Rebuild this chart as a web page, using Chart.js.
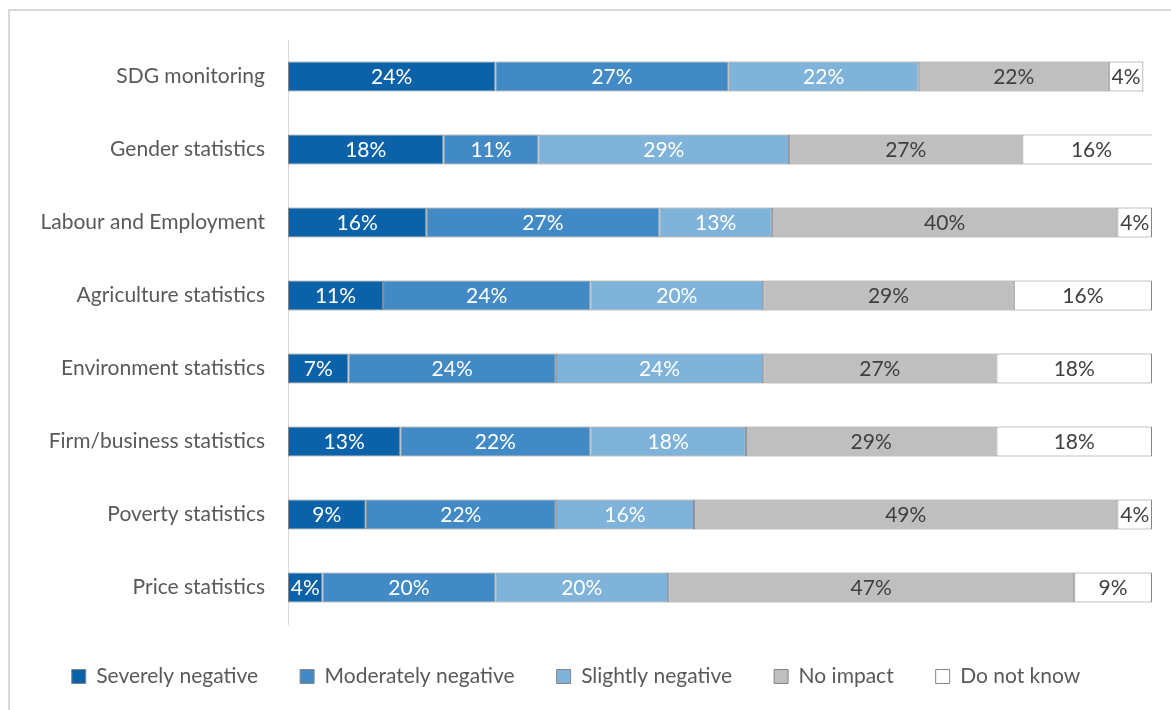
<!DOCTYPE html>
<html>
<head>
<meta charset="utf-8">
<script src="https://cdn.jsdelivr.net/npm/chart.js@4"></script>
<style>
  body { margin: 0; background: #fff; }
  #caixa { position: relative; width: 1171px; height: 710px; overflow: hidden; }
  #moldura { position: absolute; left: 8px; top: 9px; width: 1300px; height: 900px; border: 2px solid #d9d9d9; box-sizing: border-box; }
  #grafico { position: absolute; left: 0; top: 0; }
</style>
</head>
<body>
<div id="caixa">
  <div id="moldura"></div>
  <canvas id="grafico" width="1171" height="710"></canvas>
</div>
<script>
/* Dados do gráfico */
const categorias = ["SDG monitoring", "Gender statistics", "Labour and Employment", "Agriculture statistics",
  "Environment statistics", "Firm/business statistics", "Poverty statistics", "Price statistics"]

const severamente = [24, 18, 16, 11, 7, 13, 9, 4]
const moderadamente = [27, 11, 27, 24, 24, 22, 22, 20]
const levemente = [22, 29, 13, 20, 24, 18, 16, 20]
const semImpacto = [22, 27, 40, 29, 27, 29, 49, 47]
const naoSabe = [4, 16, 4, 16, 18, 18, 4, 9]

const fonte = "Lato, 'Liberation Sans', sans-serif"
const tamanho = 21

/* Plugin para escrever o valor no meio de cada barra */
const rotulos = {
  id: 'rotulos',
  afterDatasetsDraw(chart) {
    const ctx = chart.ctx
    ctx.save()
    ctx.font = tamanho + "px " + fonte
    ctx.textAlign = "center"
    ctx.textBaseline = "middle"
    chart.data.datasets.forEach((dataset, i) => {
      ctx.fillStyle = dataset.corTexto
      chart.getDatasetMeta(i).data.forEach((barra, j) => {
        const {x, y, base} = barra.getProps(['x', 'y', 'base'], true)
        ctx.fillText(dataset.data[j] + "%", (x + base) / 2, y + 1)
      })
    })
    ctx.restore()
  }
}

function serie(nome, valores, cor, corTexto) {
  return {
    label: nome,
    data: valores,
    backgroundColor: cor,
    borderColor: '#858585',
    borderWidth: 1,
    borderSkipped: false,
    barPercentage: 0.41,
    categoryPercentage: 1,
    corTexto: corTexto
  }
}

const grafico = document.getElementById("grafico")
new Chart(grafico, {
  type: 'bar',
  data: {
    labels: categorias,
    datasets: [
      serie('Severely negative', severamente, '#0b62a8', '#ffffff'),
      serie('Moderately negative', moderadamente, '#418ac5', '#ffffff'),
      serie('Slightly negative', levemente, '#7fb3da', '#ffffff'),
      serie('No impact', semImpacto, '#bfbfbf', '#404040'),
      serie('Do not know', naoSabe, '#ffffff', '#404040')
    ]
  },
  options: {
    indexAxis: 'y',
    responsive: false,
    animation: false,
    layout: { padding: { top: 40, right: 19, left: 0, bottom: 13 } },
    scales: {
      x: { stacked: true, min: 0, max: 100, display: false },
      y: {
        stacked: true,
        grid: { display: false, drawTicks: false },
        border: { display: true, color: '#d9d9d9', width: 1 },
        ticks: { color: '#595959', font: { size: tamanho, family: fonte }, padding: 23 },
        afterFit(escala) { escala.width = 288 }
      }
    },
    plugins: {
      tooltip: { enabled: false },
      legend: {
        position: 'bottom',
        labels: {
          color: '#595959',
          font: { size: tamanho, family: fonte },
          boxWidth: 14,
          boxHeight: 14,
          padding: 42
        }
      }
    }
  },
  plugins: [rotulos]
})
</script>
</body>
</html>
